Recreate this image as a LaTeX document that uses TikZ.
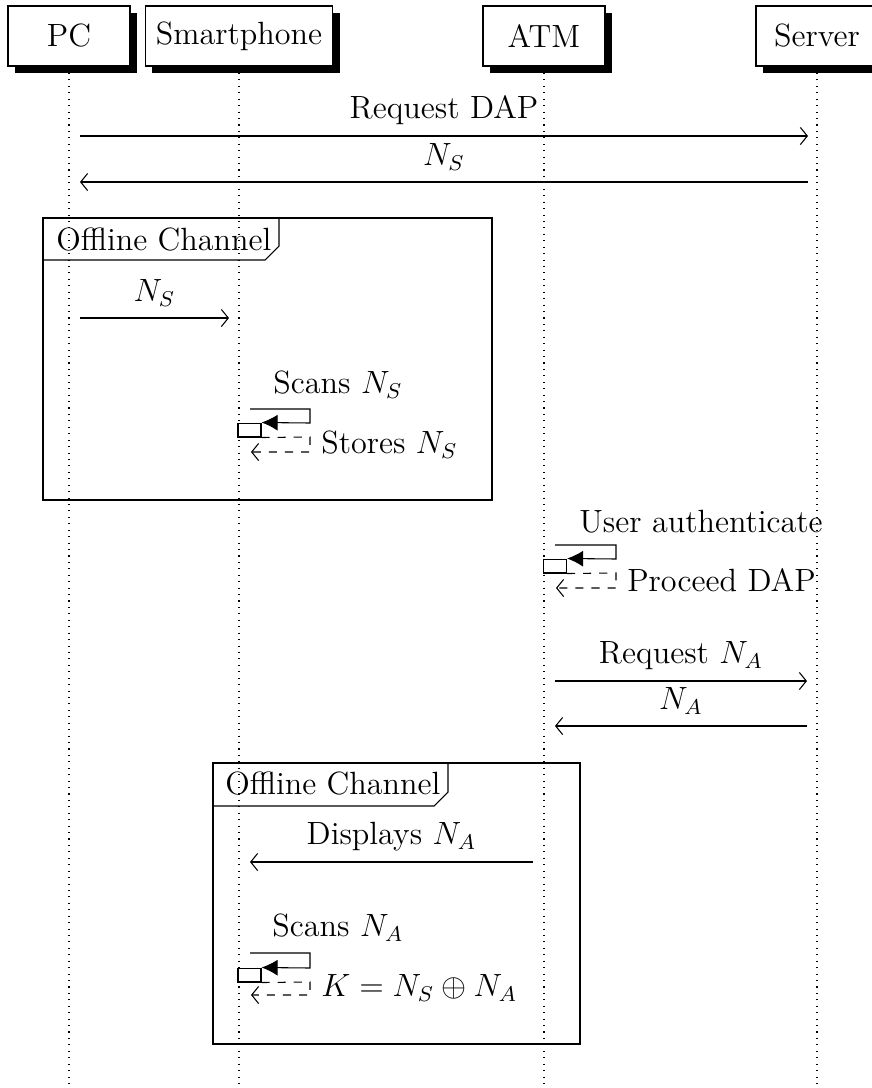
\documentclass[tikz,border=0pt,12pt]{standalone}
\usetikzlibrary{shadows,arrows.meta}
\tikzset{
  inst/.style={rectangle, draw, fill=white, minimum width=45.5pt, minimum height=22.4pt,
    drop shadow={opacity=1, fill=black}},
  lifeline/.style={dotted},
  actbox/.style={rectangle, draw, fill=white, minimum width=8.6pt, minimum height=5.2pt, inner sep=0pt},
  tag/.style={anchor=west},
  >={Straight Barb[length=2.6pt,width=6.4pt]},
  callarrow/.style={>={Latex[length=6pt,width=6pt]}, ->},
}
\begin{document}
\begin{tikzpicture}[x=0.3731pt, y=-0.3731pt] %[scale=0.8]
  \useasboundingbox (0,0) rectangle (872,1088);
  % instances
  \node [inst] (pc) at (69,36) {PC};
  \node [inst] (phone) at (239,36) {Smartphone};
  \node [inst] (atm) at (544,36) {ATM};
  \node [inst] (server) at (817,36) {Server};
  \coordinate (pcend) at (69,1088);
  \coordinate (phoneend) at (239,1088);
  \coordinate (atmend) at (544,1088);
  \coordinate (serverend) at (817,1088);
  \draw [lifeline] (pc) -- (pcend);
  \draw [lifeline] (phone) -- (phoneend);
  \draw [lifeline] (atm) -- (atmend);
  \draw [lifeline] (server) -- (serverend);
  % PC <-> Server
  \coordinate (ra) at (80,136);
  \coordinate (rb) at (808,136);
  \coordinate (na) at (808,182);
  \coordinate (nb) at (80,182);
  \draw [->] (ra) -- node [above] {Request DAP} (rb);
  \draw [->] (na) -- node [above] {\(N_S\)} (nb);
  % first offline channel
  \draw (43,218) rectangle (492,500);
  \draw (43,218) -- (279,218) -- (279,246) -- (265,260) -- (43,260);
  \node [tag] (off1) at (45,240) {Offline Channel};
  \coordinate (sa) at (80,318);
  \coordinate (sb) at (229,318);
  \draw [->] (sa) -- node [above] {\(N_S\)} (sb);
  \node (scan1) at (338,385) {Scans \(N_S\)};
  \node [actbox] (act1) at (249.5,430) {};
  \coordinate (c1a) at (250,409);
  \coordinate (c1b) at (310,409);
  \coordinate (c1c) at (310,423);
  \coordinate (c1d) at (310,437);
  \coordinate (c1e) at (310,452);
  \coordinate (c1f) at (251,452);
  \draw [callarrow] (c1a) -- (c1b) -- (c1c) -- (act1.north east);
  \draw [dashed, ->] (act1.south east) -- (c1d) -- (c1e) -- (c1f);
  \node [anchor=west] (store1) at (310,445) {Stores \(N_S\)};
  % ATM authentication
  \node (auth) at (701,522) {User authenticate};
  \node [actbox] (act2) at (555,566) {};
  \coordinate (c2a) at (555,545);
  \coordinate (c2b) at (616,545);
  \coordinate (c2c) at (616,559);
  \coordinate (c2d) at (616,573);
  \coordinate (c2e) at (616,588);
  \coordinate (c2f) at (556,588);
  \draw [callarrow] (c2a) -- (c2b) -- (c2c) -- (act2.north east);
  \draw [dashed, ->] (act2.south east) -- (c2d) -- (c2e) -- (c2f);
  \node [anchor=west] (proceed) at (616,580) {Proceed DAP};
  % ATM <-> Server
  \coordinate (qa) at (555,681);
  \coordinate (qb) at (807,681);
  \coordinate (ka) at (807,726);
  \coordinate (kb) at (555,726);
  \draw [->] (qa) -- node [above] {Request \(N_A\)} (qb);
  \draw [->] (ka) -- node [above] {\(N_A\)} (kb);
  % second offline channel
  \draw (213,763) rectangle (580,1044);
  \draw (213,763) -- (448,763) -- (448,792) -- (434,806) -- (213,806);
  \node [tag] (off2) at (214,784) {Offline Channel};
  \coordinate (da) at (533,862);
  \coordinate (db) at (250,862);
  \draw [->] (da) -- node [above] {Displays \(N_A\)} (db);
  \node (scan2) at (338,928) {Scans \(N_A\)};
  \node [actbox] (act3) at (249.5,975) {};
  \coordinate (c3a) at (250,953);
  \coordinate (c3b) at (310,953);
  \coordinate (c3c) at (310,968);
  \coordinate (c3d) at (310,982);
  \coordinate (c3e) at (310,995);
  \coordinate (c3f) at (251,995);
  \draw [callarrow] (c3a) -- (c3b) -- (c3c) -- (act3.north east);
  \draw [dashed, ->] (act3.south east) -- (c3d) -- (c3e) -- (c3f);
  \node [anchor=west] (key) at (310,988) {\(K = N_S \oplus N_A\)};
\end{tikzpicture}
\end{document}
